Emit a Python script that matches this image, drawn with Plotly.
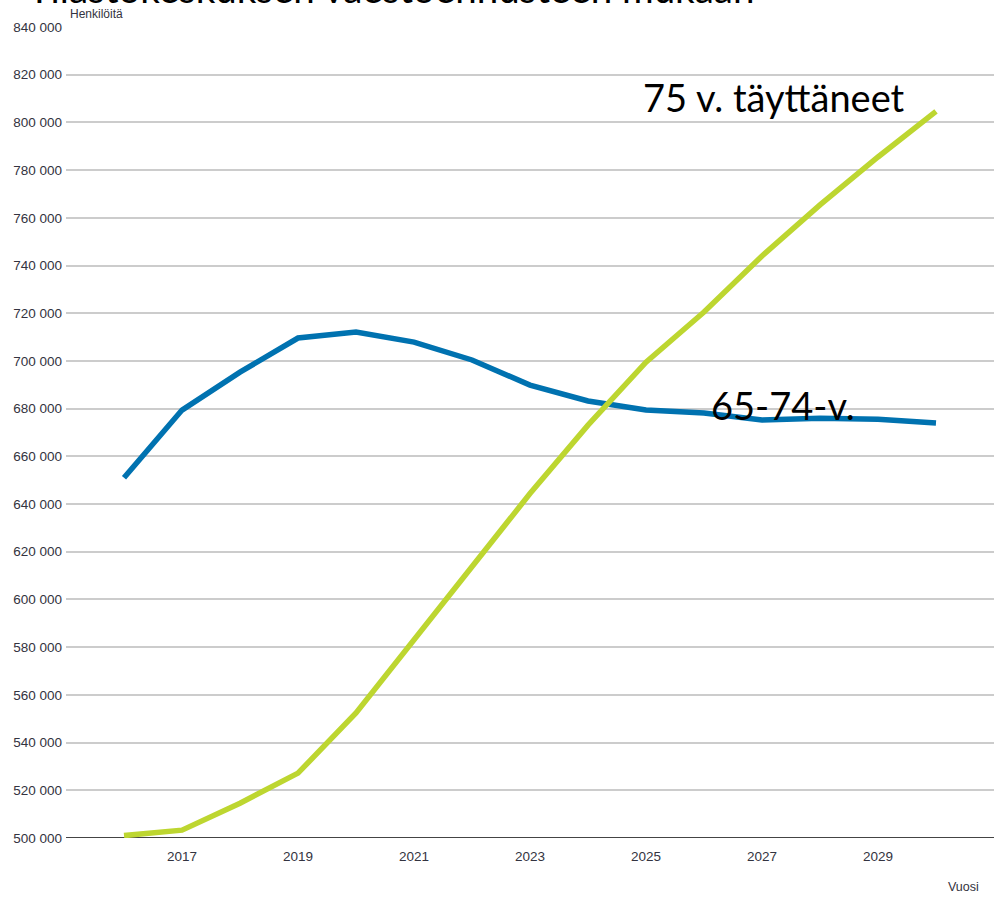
import plotly.graph_objects as go

years = list(range(2016, 2031))
age_65_74 = [651000, 679400, 695300, 709600, 712100, 707900, 700400, 689900,
             683200, 679400, 678200, 675200, 676000, 675600, 674000]
age_75_plus = [501000, 503300, 514600, 527200, 552400, 583000, 614400, 644400,
               673100, 699500, 720500, 744000, 765400, 785500, 804600]

y_ticks = list(range(500000, 840001, 20000))
y_tick_labels = [f"{v:,}".replace(",", " ") for v in y_ticks]
x_ticks = list(range(2017, 2030, 2))

title_text = "Tilastokeskuksen väestöennusteen mukaan"
label_75 = "75 v. täyttäneet"
label_65 = "65-74-v."

fig = go.Figure()
fig.add_trace(go.Scatter(x=years, y=age_65_74, mode="lines", name=label_65,
                         line=dict(color="#0072B0", width=5.5)))
fig.add_trace(go.Scatter(x=years, y=age_75_plus, mode="lines", name=label_75,
                         line=dict(color="#BDD630", width=5.5)))

tick_font = dict(family="Liberation Sans, Arial, sans-serif", size=13.5, color="#333340")
big_font = dict(family="Lato, Open Sans, sans-serif", size=38, color="#000000")

fig.update_layout(
    width=994, height=897,
    margin=dict(l=66, r=0, t=27, b=59),
    paper_bgcolor="white", plot_bgcolor="white",
    showlegend=False,
    xaxis=dict(range=[2015, 2031], tickvals=x_ticks, ticktext=[str(v) for v in x_ticks],
               showgrid=False, zeroline=False, showline=False, ticks="",
               tickfont=tick_font, ticklabelstandoff=8),
    yaxis=dict(range=[500000, 840000], tickvals=y_ticks, ticktext=y_tick_labels,
               showgrid=True, gridcolor="#cccccc", gridwidth=1.5, zeroline=False,
               showline=False, ticks="", tickfont=tick_font, ticklabelstandoff=3),
    annotations=[
        dict(text=title_text, xref="paper", yref="paper", x=-40 / 928, y=1 + 14 / 811,
             xanchor="left", yanchor="bottom", showarrow=False,
             font=dict(family="Lato, Open Sans, sans-serif", size=38.5, color="#000000")),
        dict(text="Henkilöitä", xref="paper", yref="paper", x=0.002, y=1 + 13 / 811,
             xanchor="left", yanchor="middle", showarrow=False,
             font=dict(family="Liberation Sans, Arial, sans-serif", size=12, color="#333340")),
        dict(text="Vuosi", xref="paper", yref="paper", x=0.986, y=-49 / 811,
             xanchor="right", yanchor="middle", showarrow=False,
             font=dict(family="Liberation Sans, Arial, sans-serif", size=12.5, color="#333340")),
        dict(text=label_75, xref="x", yref="y", x=2024.91, y=810600,
             xanchor="left", yanchor="middle", showarrow=False, font=big_font),
        dict(text=label_65, xref="x", yref="y", x=2026.09, y=681500,
             xanchor="left", yanchor="middle", showarrow=False, font=big_font),
    ],
    shapes=[
        dict(type="line", xref="paper", yref="y", x0=0, x1=1, y0=500000, y1=500000,
             line=dict(color="#444444", width=2), layer="below"),
    ],
)

fig.write_html("out.html", config={"displayModeBar": False},
               post_script="document.body.style.margin='0';document.body.style.overflow='hidden';")
